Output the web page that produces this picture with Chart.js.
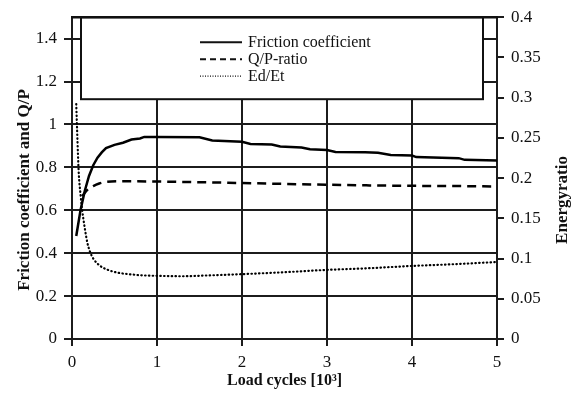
<!DOCTYPE html>
<html lang="en">
<head>
<meta charset="UTF-8">
<title>Friction coefficient, Q/P-ratio and energy ratio</title>
<script src="https://cdn.jsdelivr.net/npm/chart.js"></script>
<style>
  body { margin: 0; background: #fff; }
  #chart { display: block; }
</style>
</head>
<body>
<canvas id="chart" width="571" height="394"></canvas>
<script>
// load cycles in thousands
const frictionX = [0.05, 0.1, 0.15, 0.2, 0.25, 0.3, 0.35, 0.4, 0.5, 0.6, 0.7, 0.8, 0.85, 1.0, 1.5, 1.65, 2.0, 2.1, 2.35, 2.45, 2.7, 2.8, 3.0, 3.1, 3.45, 3.6, 3.75, 4.0, 4.05, 4.55, 4.62, 5.0];
const frictionY = [0.48, 0.6, 0.69, 0.76, 0.81, 0.845, 0.87, 0.89, 0.905, 0.915, 0.93, 0.935, 0.942, 0.942, 0.94, 0.925, 0.919, 0.909, 0.907, 0.897, 0.893, 0.885, 0.881, 0.872, 0.87, 0.868, 0.858, 0.855, 0.848, 0.843, 0.835, 0.832];

const qpX = [0.12, 0.18, 0.25, 0.32, 0.4, 0.6, 1.0, 1.5, 2.0, 2.5, 3.0, 3.5, 4.0, 4.5, 5.0];
const qpY = [0.665, 0.695, 0.713, 0.725, 0.732, 0.735, 0.734, 0.731, 0.727, 0.723, 0.719, 0.716, 0.714, 0.713, 0.711];

const energyX = [0.05, 0.06, 0.07, 0.08, 0.1, 0.12, 0.15, 0.18, 0.21, 0.25, 0.33, 0.42, 0.53, 0.7, 0.85, 1.0, 1.3, 1.6, 2.0, 2.5, 3.0, 3.5, 4.0, 4.5, 5.0];
const energyY = [0.292, 0.26, 0.23, 0.205, 0.18, 0.16, 0.138, 0.12, 0.109, 0.1, 0.091, 0.086, 0.0826, 0.0802, 0.079, 0.0785, 0.078, 0.079, 0.0806, 0.083, 0.0859, 0.088, 0.0908, 0.093, 0.0957];

const seriesNames = ['Friction coefficient', 'Q/P-ratio', 'Ed/Et'];
const seriesDashes = [[], [9, 6], [0.5, 3.3]];
const legendDashes = [[], [6, 4], [1, 1.5]];

const serif = '"Liberation Serif", "Times New Roman", serif';
const ink = '#111';
const gridInk = '#1c1c1c';

function pts(xs, ys) {
  return xs.map((x, i) => ({ x: x, y: ys[i] }));
}

// 1 instead of 1.0, 0.4 instead of 0.40
const plainNumber = v => String(parseFloat(v.toFixed(3)));

// white legend box inside the plot, plus the top frame and rotated axis titles
const frameAndLegend = {
  id: 'frameAndLegend',
  beforeDatasetsDraw(chart) {
    const ctx = chart.ctx, a = chart.chartArea;
    const bx1 = a.left + 9, bx2 = a.right - 14, by1 = a.top, by2 = a.top + 82;
    ctx.save();
    ctx.fillStyle = '#fff';
    ctx.fillRect(bx1, by1, bx2 - bx1, by2 - by1);
    ctx.strokeStyle = ink;
    ctx.lineWidth = 2;
    ctx.strokeRect(bx1, by1, bx2 - bx1, by2 - by1);

    ctx.font = '16px ' + serif;
    ctx.fillStyle = ink;
    ctx.textBaseline = 'middle';
    seriesNames.forEach((name, i) => {
      const yy = a.top + 25 + i * 17;
      ctx.beginPath();
      ctx.setLineDash(legendDashes[i]);
      ctx.lineWidth = i === 2 ? 1.3 : 2;
      ctx.moveTo(a.left + 128, yy);
      ctx.lineTo(a.left + 170, yy);
      ctx.stroke();
      ctx.setLineDash([]);
      ctx.fillText(name, a.left + 176, yy + 1);
    });

    // top frame line
    ctx.lineWidth = 2.5;
    ctx.beginPath();
    ctx.moveTo(a.left - 1, a.top);
    ctx.lineTo(a.right + 1, a.top);
    ctx.stroke();

    // axis titles, both reading bottom to top
    ctx.font = 'bold 17px ' + serif;
    ctx.textAlign = 'center';
    ctx.translate(25, 190);
    ctx.rotate(-Math.PI / 2);
    ctx.fillText('Friction coefficient and Q/P', 0, 0);
    ctx.setTransform(1, 0, 0, 1, 0, 0);
    ctx.translate(563, 200);
    ctx.rotate(-Math.PI / 2);
    ctx.fillText('Energyratio', 0, 0);
    ctx.restore();
  }
};

new Chart(document.getElementById('chart'), {
  type: 'line',
  data: {
    datasets: [{
      label: seriesNames[0],
      data: pts(frictionX, frictionY),
      yAxisID: 'y',
      borderColor: '#000',
      borderWidth: 2.5,
      borderDash: seriesDashes[0],
      pointRadius: 0,
      tension: 0
    }, {
      label: seriesNames[1],
      data: pts(qpX, qpY),
      yAxisID: 'y',
      borderColor: '#000',
      borderWidth: 2.5,
      borderDash: seriesDashes[1],
      pointRadius: 0,
      cubicInterpolationMode: 'monotone'
    }, {
      label: seriesNames[2],
      data: pts(energyX, energyY),
      yAxisID: 'y1',
      borderColor: '#000',
      borderWidth: 2.2,
      borderDash: seriesDashes[2],
      borderCapStyle: 'round',
      pointRadius: 0,
      cubicInterpolationMode: 'monotone'
    }]
  },
  options: {
    responsive: false,
    animation: false,
    layout: { padding: { top: 13, left: 0, right: 0, bottom: 0 } },
    plugins: {
      legend: { display: false },
      tooltip: { enabled: false }
    },
    scales: {
      x: {
        type: 'linear',
        min: 0,
        max: 5,
        afterFit: s => { s.height = 55; },
        ticks: {
          stepSize: 1,
          padding: 6,
          color: ink,
          font: { family: serif, size: 17 }
        },
        grid: { color: gridInk, lineWidth: 2, tickLength: 7 },
        border: { display: true, color: gridInk, width: 2 },
        title: {
          display: true,
          text: 'Load cycles [10³]',
          color: ink,
          font: { family: serif, size: 16, weight: 'bold' },
          padding: { top: 0, bottom: 4 }
        }
      },
      y: {
        type: 'linear',
        position: 'left',
        min: 0,
        max: 1.5,
        afterFit: s => { s.width = 72; },
        afterBuildTicks: s => { s.ticks = s.ticks.filter(t => t.value < 1.45); },
        ticks: {
          stepSize: 0.2,
          padding: 7,
          color: ink,
          font: { family: serif, size: 17 },
          callback: plainNumber
        },
        grid: { color: gridInk, lineWidth: 2, tickLength: 8 },
        border: { display: true, color: gridInk, width: 2 }
      },
      y1: {
        type: 'linear',
        position: 'right',
        min: 0,
        max: 0.4,
        afterFit: s => { s.width = 74; },
        ticks: {
          stepSize: 0.05,
          padding: 7,
          color: ink,
          font: { family: serif, size: 17 },
          callback: plainNumber
        },
        grid: { drawOnChartArea: false, color: gridInk, lineWidth: 2, tickLength: 7 },
        border: { display: true, color: gridInk, width: 2 }
      }
    }
  },
  plugins: [frameAndLegend]
});
</script>
</body>
</html>
